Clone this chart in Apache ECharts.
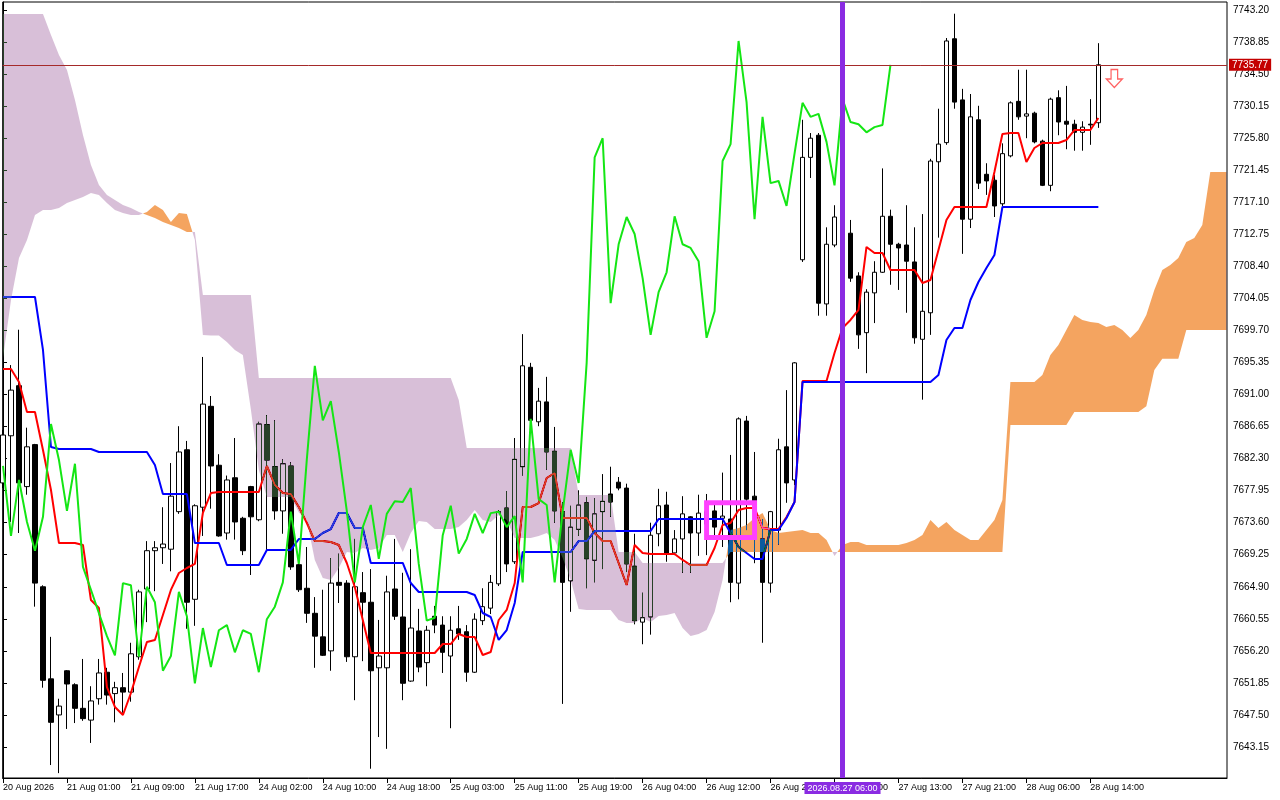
<!DOCTYPE html>
<html><head><meta charset="utf-8">
<script src="https://cdn.jsdelivr.net/npm/echarts@6/dist/echarts.min.js"></script>
<style>html,body{margin:0;padding:0;background:#fff}#c{width:1280px;height:800px}</style>
</head><body><div id="c"></div>
<script>
// ---- tick labels ----
const timeLabelIndex = [0,8,16,24,32,40,48,56,64,72,80,88,96,104,112,120,128,136];
const timeLabels = ['20 Aug 2026','21 Aug 01:00','21 Aug 09:00','21 Aug 17:00','24 Aug 02:00','24 Aug 10:00','24 Aug 18:00','25 Aug 03:00','25 Aug 11:00','25 Aug 19:00','26 Aug 04:00','26 Aug 12:00','26 Aug 20:00','27 Aug 05:00','27 Aug 13:00','27 Aug 21:00','28 Aug 06:00','28 Aug 14:00'];
const priceTicks = [7643.15,7647.50,7651.85,7656.20,7660.55,7664.90,7669.25,7673.60,7677.95,7682.30,7686.65,7691.00,7695.35,7699.70,7704.05,7708.40,7712.75,7717.10,7721.45,7725.80,7730.15,7734.50,7738.85,7743.20];

// ---- candles (hourly bars, index 0..137) ----
const opens = [
7679.0,7685.4,7692.2,7678.5,7684.2,7664.9,7652.4,7647.5,7653.5,7651.6,
7648.4,7646.8,7649.7,7653.3,7650.4,7651.2,7650.6,7655.4,7664.6,7669.8,
7670.2,7670.0,7675.1,7683.5,7663.2,7675.7,7689.4,7681.4,7672.2,7679.7,
7674.2,7678.5,7674.0,7686.9,7681.2,7675.2,7681.3,7667.9,7664.7,7661.3,
7658.1,7656.2,7665.5,7665.4,7655.4,7664.1,7662.8,7653.9,7653.9,7664.6,
7660.8,7652.1,7658.9,7654.6,7660.9,7659.7,7655.5,7659.2,7658.8,7653.3,
7660.3,7662.0,7665.3,7675.6,7668.3,7681.2,7694.7,7687.3,7690.0,7683.3,
7675.1,7665.7,7672.7,7676.3,7668.5,7675.1,7677.5,7679.1,7678.3,7667.7,
7660.1,7660.8,7672.1,7676.0,7669.5,7671.4,7674.4,7672.2,7673.4,7675.2,
7674.2,7674.1,7665.4,7687.4,7677.2,7671.4,7665.4,7672.6,7683.9,7679.4,
7709.3,7723.2,7726.2,7703.3,7711.3,7715.1,7712.9,7707.1,7699.4,7704.8,
7707.6,7715.2,7711.4,7711.3,7709.0,7698.5,7702.1,7722.6,7725.2,7739.3,
7731.0,7714.8,7728.3,7720.9,7720.1,7716.9,7723.4,7730.8,7728.8,7729.2,
7725.4,7719.4,7731.3,7728.1,7727.7,7726.6,7727.7,7727.9];
const closes = [
7685.5,7691.6,7679.0,7683.9,7665.4,7652.2,7646.5,7648.7,7651.7,7648.4,
7647.0,7649.4,7653.2,7650.2,7651.2,7650.6,7655.8,7664.2,7669.8,7670.2,
7670.7,7677.2,7683.2,7662.8,7675.9,7689.7,7681.3,7671.8,7679.4,7673.7,
7669.8,7674.4,7687.0,7682.1,7675.2,7681.6,7667.6,7664.5,7661.3,7658.2,
7655.6,7665.4,7665.1,7655.4,7664.9,7662.8,7653.5,7655.5,7664.2,7660.9,
7651.8,7659.3,7654.0,7659.0,7659.7,7656.0,7659.0,7658.5,7653.3,7660.5,
7662.2,7665.5,7675.1,7668.0,7682.2,7694.9,7687.5,7690.1,7683.2,7675.2,
7665.5,7673.0,7676.0,7668.7,7674.8,7676.5,7676.4,7678.3,7668.0,7660.3,
7660.7,7671.9,7675.9,7669.4,7671.4,7674.8,7672.2,7674.9,7675.1,7673.0,
7674.5,7665.5,7687.7,7676.8,7676.0,7665.5,7675.1,7683.5,7679.0,7695.3,
7723.2,7725.8,7703.4,7711.4,7715.1,7712.8,7706.8,7699.1,7704.9,7707.6,
7715.2,7711.4,7710.9,7709.1,7698.7,7702.3,7722.7,7725.0,7739.0,7730.7,
7714.8,7728.7,7719.7,7720.0,7716.6,7723.7,7730.6,7728.7,7729.1,7725.3,
7719.4,7731.1,7728.0,7727.7,7726.6,7727.3,7727.6,7735.77];
const lows = [
7678.3,7673.7,7672.2,7677.4,7662.2,7651.2,7640.7,7639.6,7645.6,7646.4,
7646.7,7643.7,7648.9,7648.9,7646.5,7647.8,7649.3,7655.0,7660.1,7664.3,
7668.0,7667.0,7674.8,7659.2,7659.6,7671.8,7675.5,7671.7,7671.3,7671.3,
7669.2,7666.5,7673.8,7669.9,7674.0,7672.1,7667.2,7664.2,7660.0,7653.9,
7655.5,7653.5,7662.7,7654.7,7649.5,7654.8,7640.2,7644.5,7642.9,7660.4,
7649.5,7652.0,7653.3,7651.4,7658.6,7653.2,7645.7,7657.7,7652.0,7653.2,
7659.7,7661.2,7665.0,7666.9,7668.0,7680.0,7687.0,7686.7,7680.8,7673.6,
7649.0,7661.5,7671.8,7664.7,7665.5,7667.3,7674.4,7678.0,7666.9,7659.8,
7657.1,7658.4,7670.4,7668.3,7669.2,7666.8,7666.8,7669.1,7669.2,7671.3,
7670.3,7662.8,7663.2,7672.6,7668.1,7657.3,7664.1,7670.6,7676.3,7678.7,
7709.0,7720.4,7701.7,7701.7,7711.0,7711.3,7706.3,7697.2,7693.9,7700.7,
7707.5,7705.9,7705.2,7702.1,7697.9,7690.3,7699.1,7712.3,7724.9,7729.8,
7710.1,7713.6,7718.9,7718.1,7715.1,7716.6,7723.2,7728.3,7725.8,7725.1,
7719.3,7718.6,7726.2,7724.3,7724.1,7724.1,7724.9,7727.2];
const highs = [
7686.2,7695.0,7699.8,7686.5,7684.3,7665.1,7658.1,7649.7,7653.6,7651.8,
7655.1,7651.4,7655.1,7653.9,7652.0,7653.2,7657.3,7664.5,7671.1,7671.1,
7675.7,7681.7,7686.7,7684.7,7676.1,7696.1,7690.8,7682.9,7680.0,7685.1,
7674.4,7678.6,7687.3,7688.2,7687.5,7682.2,7681.8,7668.5,7670.3,7663.5,
7664.5,7668.8,7669.4,7665.8,7671.4,7666.9,7667.3,7660.4,7666.4,7671.4,
7666.8,7670.0,7661.9,7659.6,7662.3,7660.9,7660.9,7662.3,7659.7,7661.3,
7664.7,7666.5,7675.3,7677.9,7685.1,7699.2,7695.3,7691.9,7693.4,7686.6,
7676.4,7675.9,7678.0,7677.1,7676.9,7680.2,7681.2,7679.8,7678.9,7672.1,
7664.1,7673.6,7678.2,7677.8,7672.6,7677.2,7674.5,7677.4,7677.5,7676.0,
7680.4,7682.8,7687.9,7688.1,7683.2,7674.1,7675.2,7685.0,7691.6,7695.4,
7728.3,7726.5,7726.5,7713.7,7716.7,7716.7,7714.7,7707.6,7705.3,7709.1,
7721.7,7716.1,7711.6,7716.7,7713.7,7715.5,7723.0,7729.8,7739.4,7742.7,
7732.5,7731.8,7730.2,7722.4,7720.8,7725.1,7730.8,7735.1,7735.1,7729.4,
7725.6,7731.3,7732.3,7732.9,7728.3,7728.1,7731.1,7738.7];

// ---- Ichimoku lines ----
const tenkan = [
7694.47,7694.47,7692.70,7688.63,7688.63,7683.47,7678.04,7670.84,7670.84,7670.84,
7670.57,7663.10,7662.02,7651.29,7648.58,7647.49,7650.48,7654.01,7657.40,7657.68,
7661.07,7664.47,7666.77,7667.45,7668.00,7674.92,7677.63,7677.77,7677.77,7677.77,
7677.77,7677.77,7677.77,7681.30,7678.72,7677.63,7677.49,7675.73,7673.56,7671.11,
7671.11,7670.98,7670.57,7668.13,7664.87,7660.39,7655.91,7655.91,7655.91,7655.91,
7655.91,7655.91,7655.91,7655.91,7655.91,7657.13,7657.13,7658.49,7658.08,7658.08,
7655.64,7656.05,7660.39,7661.75,7665.41,7675.73,7675.73,7676.27,7679.67,7680.35,
7674.24,7674.24,7674.24,7674.24,7672.20,7671.11,7671.11,7668.13,7665.14,7670.57,
7669.49,7669.35,7669.35,7669.35,7669.35,7668.54,7667.86,7667.86,7667.86,7670.16,
7673.29,7673.56,7675.33,7675.60,7675.60,7672.88,7672.74,7672.74,7674.37,7676.41,
7692.84,7692.84,7692.84,7692.84,7696.64,7700.03,7701.12,7702.48,7711.03,7710.21,
7710.21,7707.91,7707.91,7707.91,7707.91,7706.14,7706.55,7710.62,7714.69,7716.46,
7716.46,7716.46,7716.46,7716.46,7721.21,7726.37,7726.50,7726.50,7722.57,7724.47,
7725.15,7725.15,7725.15,7725.55,7726.91,7726.91,7726.91,7728.54];
const kijun = [
7704.24,7704.24,7704.24,7704.24,7704.24,7697.05,7683.88,7683.61,7683.61,7683.61,
7683.61,7683.61,7683.20,7683.20,7683.20,7683.20,7683.20,7683.20,7683.20,7681.43,
7677.49,7677.49,7677.49,7677.49,7670.84,7670.84,7670.84,7670.84,7667.86,7667.86,
7667.86,7667.86,7667.86,7669.90,7669.90,7669.90,7669.90,7671.39,7671.39,7671.39,
7672.20,7672.74,7674.92,7674.92,7672.88,7672.88,7668.13,7668.13,7668.13,7668.13,
7668.13,7665.41,7664.19,7664.19,7664.19,7664.19,7664.19,7664.19,7664.19,7663.78,
7661.34,7660.80,7657.68,7659.03,7662.70,7669.62,7669.62,7669.62,7669.62,7669.62,
7669.62,7669.62,7671.11,7671.11,7672.47,7672.47,7672.47,7672.47,7672.47,7672.47,
7672.47,7672.47,7674.10,7674.10,7674.10,7674.10,7674.10,7674.10,7674.10,7674.10,
7674.10,7672.20,7670.30,7669.49,7668.67,7668.67,7672.61,7672.61,7674.24,7676.41,
7692.70,7692.70,7692.70,7692.70,7692.70,7692.70,7692.70,7692.70,7692.70,7692.70,
7692.70,7692.70,7692.70,7692.70,7692.70,7692.70,7692.70,7693.65,7698.40,7700.03,
7700.03,7703.83,7706.28,7708.18,7709.94,7716.46,7716.46,7716.46,7716.46,7716.46,
7716.46,7716.46,7716.46,7716.46,7716.46,7716.46,7716.46,7716.46];
const chikou = [
7681.3,7671.8,7679.4,7673.7,7669.8,7674.4,7687.0,7682.1,7675.2,7681.6,
7667.6,7664.5,7661.3,7658.2,7655.6,7665.4,7665.1,7655.4,7664.9,7662.8,
7653.5,7655.5,7664.2,7660.9,7651.8,7659.3,7654.0,7659.0,7659.7,7656.0,
7659.0,7658.5,7653.3,7660.5,7662.2,7665.5,7675.1,7668.0,7682.2,7694.9,
7687.5,7690.1,7683.2,7675.2,7665.5,7673.0,7676.0,7668.7,7674.8,7676.5,
7676.4,7678.3,7668.0,7660.3,7660.7,7671.9,7675.9,7669.4,7671.4,7674.8,
7672.2,7674.9,7675.1,7673.0,7674.5,7665.5,7687.7,7676.8,7676.0,7665.5,
7675.1,7683.5,7679.0,7695.3,7723.2,7725.8,7703.4,7711.4,7715.1,7712.8,
7706.8,7699.1,7704.9,7707.6,7715.2,7711.4,7710.9,7709.1,7698.7,7702.3,
7722.7,7725.0,7739.0,7730.7,7714.8,7728.7,7719.7,7720.0,7716.6,7723.7,
7730.6,7728.7,7729.1,7725.3,7719.4,7731.1,7728.0,7727.7,7726.6,7727.3,
7727.6,7735.77];
const senkouA = [
7695.96,7703.83,7709.54,7711.98,7715.37,7716.05,7716.05,7716.32,7717.00,7717.41,
7717.81,7718.36,7718.09,7717.00,7716.05,7715.64,7715.37,7715.37,7715.78,7716.73,
7716.05,7714.42,7715.64,7715.51,7711.98,7699.08,7699.00,7699.00,7698.13,7697.05,
7696.37,7689.00,7680.76,7677.09,7677.09,7677.09,7677.09,7675.00,7673.97,7668.54,
7666.09,7665.82,7667.45,7669.62,7669.49,7670.16,7669.90,7670.16,7671.93,7671.93,
7669.62,7672.20,7673.83,7673.70,7672.74,7672.74,7672.74,7673.01,7673.97,7675.33,
7673.97,7673.70,7674.64,7673.97,7671.52,7671.52,7671.52,7671.79,7672.20,7671.25,
7668.81,7665.82,7661.88,7661.75,7661.75,7661.75,7661.75,7660.39,7659.98,7659.98,
7660.66,7660.12,7660.93,7661.07,7661.34,7659.30,7658.22,7658.49,7659.03,7661.47,
7665.82,7672.61,7672.88,7673.29,7674.24,7674.91,7672.61,7672.20,7672.34,7672.47,
7672.61,7672.20,7672.20,7671.25,7669.08,7670.57,7670.98,7670.98,7670.57,7670.57,
7670.57,7670.57,7670.57,7670.84,7671.25,7671.93,7673.97,7672.88,7673.70,7672.61,
7671.93,7671.25,7671.25,7672.61,7673.97,7676.68,7692.70,7692.70,7692.70,7692.70,
7693.65,7696.37,7697.73,7699.76,7701.80,7701.12,7700.85,7700.71,7700.17,7700.44,
7699.76,7698.67,7699.76,7701.80,7705.19,7707.91,7708.59,7709.54,7711.71,7712.25,
7714.01,7721.21,7721.21,7721.21];
const senkouB = [
7742.66,7742.66,7742.66,7742.66,7742.66,7742.66,7739.81,7737.09,7735.06,7730.98,
7726.23,7722.16,7719.44,7718.09,7717.41,7716.73,7716.32,7715.78,7715.37,7714.96,
7714.42,7714.01,7713.61,7713.06,7713.06,7704.51,7704.51,7704.51,7704.51,7704.51,
7704.51,7704.51,7693.24,7693.24,7693.24,7693.24,7693.24,7693.24,7693.24,7693.24,
7693.24,7693.24,7693.24,7693.24,7693.24,7693.24,7693.24,7693.24,7693.24,7693.24,
7693.24,7693.24,7693.24,7693.24,7693.24,7693.24,7693.24,7690.26,7683.74,7683.74,
7683.74,7683.74,7683.74,7683.74,7683.74,7683.74,7683.74,7683.74,7683.74,7683.74,
7683.74,7683.74,7677.36,7677.36,7677.36,7677.36,7677.36,7669.62,7669.62,7669.62,
7668.13,7668.13,7668.13,7668.13,7668.13,7668.13,7668.13,7668.13,7668.13,7668.13,
7668.13,7669.62,7669.62,7669.62,7669.62,7669.62,7669.62,7669.62,7669.62,7669.62,
7669.62,7669.62,7669.62,7669.62,7669.62,7669.62,7669.62,7669.62,7669.62,7669.62,
7669.62,7669.62,7669.62,7669.62,7669.62,7669.62,7669.62,7669.62,7669.62,7669.62,
7669.62,7669.62,7669.62,7669.62,7669.62,7669.62,7686.86,7686.86,7686.86,7686.86,
7686.86,7686.86,7686.86,7686.86,7688.63,7688.63,7688.63,7688.63,7688.63,7688.63,
7688.63,7688.63,7688.63,7689.40,7694.33,7695.85,7695.85,7695.85,7699.76,7699.76,
7699.76,7699.76,7699.76,7699.76];

// ---- annotations ----
const lastPrice = 7735.77;
const markerBar = 105;
const markerLabel = '2026.08.27 06:00';
const signalBox = [[88, 7676.3], [94, 7671.6]];
const sellSignal = [[139, 7733.9]];

// ---- build ----
const candleData = opens.map((o, i) => [i, o, closes[i], lows[i], highs[i]]);
const asLine = arr => arr.map((v, i) => [i, v]);

function cloudRegions(A, B) {
  const regions = [];
  let cur = null;
  for (let i = 0; i < A.length; i++) {
    const d = A[i] - B[i];
    const up = d >= 0;
    const topV = up ? A[i] : B[i], botV = up ? B[i] : A[i];
    if (!cur) { cur = {up, top: [[i, topV]], bot: [[i, botV]]}; continue; }
    if (up === cur.up) { cur.top.push([i, topV]); cur.bot.push([i, botV]); continue; }
    const d0 = A[i-1] - B[i-1];
    const t = d0 / (d0 - d);
    const x = i - 1 + t, v = A[i-1] + (A[i] - A[i-1]) * t;
    cur.top.push([x, v]); cur.bot.push([x, v]);
    regions.push(cur);
    cur = {up, top: [[x, v], [i, topV]], bot: [[x, v], [i, botV]]};
  }
  if (cur) regions.push(cur);
  return regions;
}
const regions = cloudRegions(senkouA, senkouB);

const FONT = 'Liberation Sans, Arial, sans-serif';
const chart = echarts.init(document.getElementById('c'), null, {renderer: 'canvas', width: 1280, height: 800});
chart.setOption({
  animation: false,
  backgroundColor: '#ffffff',
  grid: {left: 2, top: 2, right: 53, bottom: 22, show: true, borderColor: '#000', borderWidth: 1, backgroundColor: 'transparent'},
  xAxis: {
    type: 'value', min: -0.04, max: 153.09,
    axisLine: {show: true, lineStyle: {color: '#000', width: 1}},
    axisTick: {show: true, customValues: timeLabelIndex, length: 5, lineStyle: {color: '#000'}},
    axisLabel: {customValues: timeLabelIndex, align: 'left', fontSize: 9, fontFamily: FONT, color: '#000', margin: 5,
      formatter: v => { const k = timeLabelIndex.indexOf(Math.round(v)); return k >= 0 ? timeLabels[k] : ''; }},
    splitLine: {show: false}
  },
  yAxis: {
    type: 'value', position: 'right', min: 7638.94, max: 7744.29,
    axisLine: {show: true, lineStyle: {color: '#000', width: 1}},
    axisTick: {show: true, customValues: priceTicks, length: 4, lineStyle: {color: '#000'}},
    axisLabel: {customValues: priceTicks, fontSize: 10, fontFamily: FONT, color: '#000', margin: 6,
      formatter: v => v.toFixed(2)},
    splitLine: {show: false}
  },
  series: [
    {type: 'candlestick', data: candleData, barWidth: 5, z: 2, silent: true,
     itemStyle: {color: '#ffffff', color0: '#000000', borderColor: '#000000', borderColor0: '#000000', borderWidth: 1}},
    {type: 'line', data: asLine(tenkan), showSymbol: false, symbol: 'none', z: 3, silent: true,
     lineStyle: {color: '#ff0000', width: 2}},
    {type: 'line', data: asLine(kijun), showSymbol: false, symbol: 'none', z: 3, silent: true,
     lineStyle: {color: '#0000ff', width: 2}},
    {type: 'line', data: asLine(chikou), showSymbol: false, symbol: 'none', z: 5, silent: true,
     lineStyle: {color: '#14e614', width: 2}},
    {type: 'scatter', data: sellSignal, z: 8, silent: true,
     symbol: 'path://M5,0L12,0L12,10L17,10L8.5,19L0,10L5,10Z', symbolSize: [16, 18],
     itemStyle: {color: '#ffffff', borderColor: '#ff3a3a', borderWidth: 1.3},
     markArea: {silent: true, z: 9, itemStyle: {color: 'rgba(0,0,0,0)', borderColor: '#ff40ff', borderWidth: 5},
       data: [[{coord: signalBox[0]}, {coord: signalBox[1]}]]},
     markLine: {silent: true, z: 10, symbol: ['none', 'none'], animation: false,
       data: [
         {yAxis: lastPrice, lineStyle: {color: '#a52a2a', width: 1, type: 'solid'},
          label: {show: true, position: 'end', distance: 2, formatter: lastPrice.toFixed(2), color: '#fff',
                  backgroundColor: '#c40000', padding: [1, 3, 1, 3], fontSize: 10, fontFamily: FONT}},
         {xAxis: markerBar, lineStyle: {color: '#8a2be2', width: 5, type: 'solid'},
          label: {show: true, position: 'start', distance: 4, formatter: markerLabel, color: '#fff',
                  backgroundColor: '#8a2be2', padding: [2, 3, 1, 3], fontSize: 9, fontFamily: FONT}}
       ]}}
  ]
});

// Ichimoku cloud: filled between Senkou A and B, drawn with an inverting blend like the terminal does
const zr = chart.getZr();
zr.add(new echarts.graphic.Rect({shape: {x: 0, y: 0, width: 1280, height: 800}, style: {fill: '#ffffff'}, z: -100, zlevel: 0, silent: true}));
regions.forEach(r => {
  const pts = r.top.concat(r.bot.slice().reverse()).map(p => chart.convertToPixel({xAxisIndex: 0, yAxisIndex: 0}, p));
  zr.add(new echarts.graphic.Polygon({
    shape: {points: pts}, z: 4, zlevel: 0, silent: true,
    style: {fill: r.up ? '#0b5b9f' : '#274027', blend: 'difference'}
  }));
});
zr.refreshImmediately();
</script>
</body></html>
